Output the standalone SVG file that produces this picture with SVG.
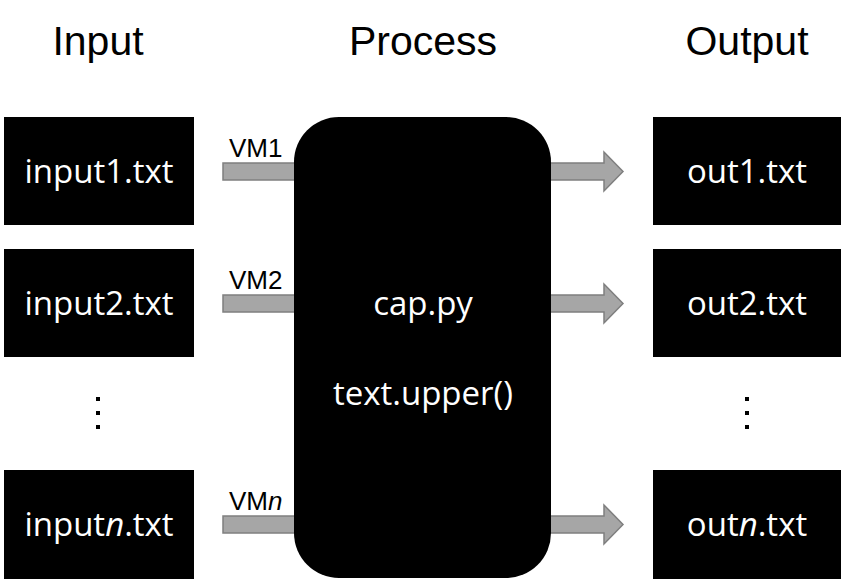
<svg xmlns="http://www.w3.org/2000/svg" width="841" height="579" viewBox="0 0 841 579">
<style>
.hdr{font-family:"Liberation Sans",Arial,sans-serif;font-size:41px;fill:#000;text-anchor:middle}
.box{fill:#000}
.bt{font-family:"Open Sans","Noto Sans",sans-serif;font-size:33px;fill:#fff;text-anchor:middle}
.vm{font-family:"Liberation Sans",Arial,sans-serif;font-size:26px;fill:#000}
.arr{fill:#a6a6a6;stroke:#7f7f7f;stroke-width:1.5}
.dot{fill:#000}
</style>
<rect width="841" height="579" fill="#fff"/>
<g id="headers">
<text class="hdr" x="98" y="55">Input</text>
<text class="hdr" x="423" y="55">Process</text>
<text class="hdr" x="747" y="55">Output</text>
</g>
<g id="connectors">
<rect class="arr" x="223" y="163" width="74" height="17"/>
<rect class="arr" x="223" y="295" width="74" height="17"/>
<rect class="arr" x="223" y="516" width="74" height="17"/>
<path class="arr" d="M550,163 H604 V152 L623,171.5 L604,191 V180 H550 Z"/>
<path class="arr" d="M550,295 H604 V284 L623,303.5 L604,323 V312 H550 Z"/>
<path class="arr" d="M550,516 H604 V505 L623,524.5 L604,544 V533 H550 Z"/>
<text class="vm" x="229" y="157">VM1</text>
<text class="vm" x="229" y="289">VM2</text>
<text class="vm" x="229" y="510">VM<tspan font-style="italic">n</tspan></text>
</g>
<g id="process">
<rect class="box" x="294" y="117" width="257" height="461" rx="45"/>
<text class="bt" x="423" y="315">cap.py</text>
<text class="bt" x="423" y="405">text.upper()</text>
</g>
<g id="input1"><rect class="box" x="4" y="117" width="190" height="108"/><text class="bt" x="99" y="183">input1.txt</text></g>
<g id="input2"><rect class="box" x="4" y="249" width="190" height="108"/><text class="bt" x="99" y="315">input2.txt</text></g>
<g id="inputn"><rect class="box" x="4" y="470" width="190" height="109"/><text class="bt" x="99" y="536">input<tspan font-style="italic">n</tspan>.txt</text></g>
<g id="out1"><rect class="box" x="653" y="117" width="188" height="108"/><text class="bt" x="747" y="183">out1.txt</text></g>
<g id="out2"><rect class="box" x="653" y="249" width="188" height="108"/><text class="bt" x="747" y="315">out2.txt</text></g>
<g id="outn"><rect class="box" x="653" y="470" width="188" height="109"/><text class="bt" x="747" y="536">out<tspan font-style="italic">n</tspan>.txt</text></g>
<g id="dots-in">
<rect class="dot" x="96" y="397" width="4" height="4"/>
<rect class="dot" x="96" y="411" width="4" height="4"/>
<rect class="dot" x="96" y="425" width="4" height="4"/>
</g>
<g id="dots-out">
<rect class="dot" x="745" y="397" width="4" height="4"/>
<rect class="dot" x="745" y="411" width="4" height="4"/>
<rect class="dot" x="745" y="425" width="4" height="4"/>
</g>
</svg>
